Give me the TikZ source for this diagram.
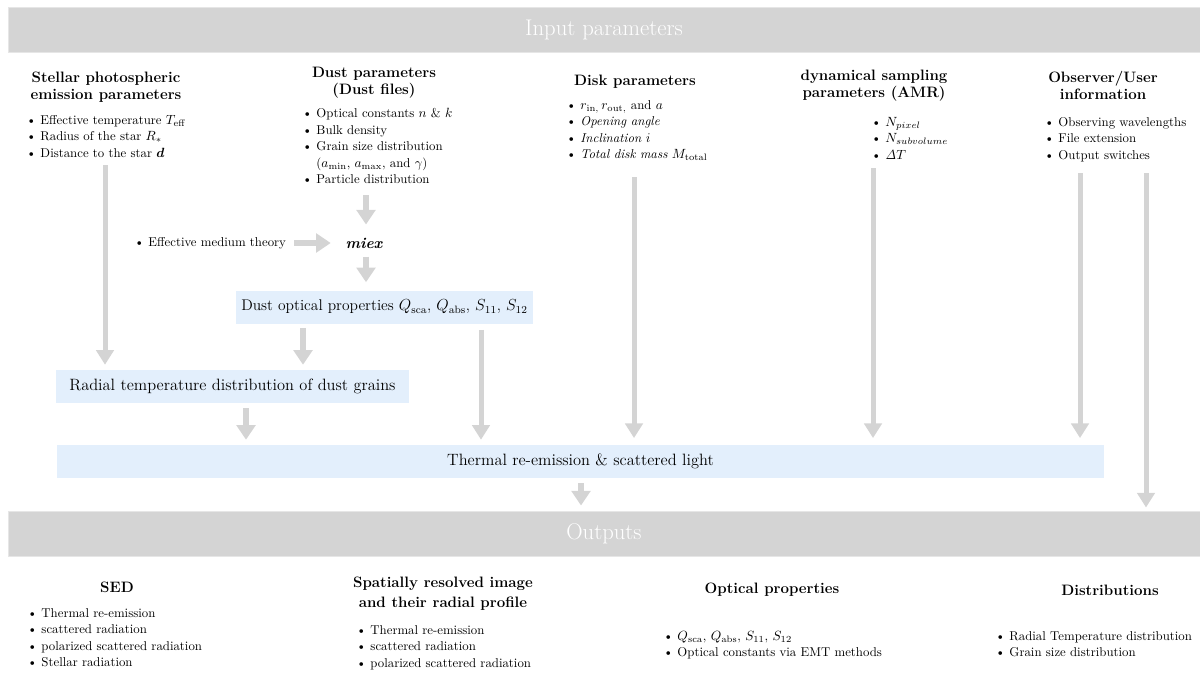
\documentclass[tikz,border=0pt]{standalone}
\usepackage{amsmath}
\usepackage{amssymb}
\usepackage{tikz}
\usetikzlibrary{arrows.meta}
\definecolor{bannergray}{RGB}{212, 212, 212}
\definecolor{bannerline}{RGB}{230, 230, 230}
\definecolor{arrowgray}{RGB}{212, 212, 212}
\definecolor{boxblue}{RGB}{227, 239, 252}

\begin{document}
\begin{tikzpicture}[x=0.75pt,y=-0.75pt,
	banner/.style={fill=bannergray, draw=bannerline, line width=0.75pt, minimum width=894pt, minimum height=33.75pt, text=white, font=\fontsize{17}{20}\selectfont},
	head/.style={align=center, inner sep=0pt, font=\fontsize{11.3}{12.8}\selectfont\bfseries},
	items/.style={anchor=north west, align=left, inner sep=0pt, font=\fontsize{9.6}{12.4}\selectfont},
	stage/.style={fill=boxblue, minimum height=24.75pt, font=\fontsize{12.3}{14}\selectfont},
	flow/.style={arrowgray, line width=3.75pt, -{Triangle[length=11pt,width=13pt]}},
	bigflow/.style={arrowgray, line width=5pt, -{Triangle[length=11pt,width=14pt]}}]
	\useasboundingbox (0,0) rectangle (1200,672);
	
	% Banners
	\node[banner] (input) at (604,29.5) {Input parameters};
	\node[banner] (output) at (604,533.5) {Outputs};
	
	% Stellar
	\node[head] (stellar) at (106,87) {Stellar photospheric\\emission parameters};
	\node[items] (stellarlist) at (26,115) {\textbullet\ Effective temperature $T_{\mathrm{eff}}$\\
		\textbullet\ Radius of the star $R_*$\\
		\textbullet\ Distance to the star $\boldsymbol{d}$};
	% Dust
	\node[head] (dust) at (374,83) {Dust parameters\\(Dust files)};
	\node[items] (dustlist) at (302,108) {\textbullet\ Optical constants $n$ \& $k$\\
		\textbullet\ Bulk density\\
		\textbullet\ Grain size distribution\\
		\phantom{\textbullet\ }($a_{\mathrm{min}}$, $a_{\mathrm{max}}$, and $\gamma$)\\
		\textbullet\ Particle distribution};
	% Disk
	\node[head] (disk) at (635,82) {Disk parameters};
	\node[items] (disklist) at (566,100) {\textbullet\ $r_{\mathrm{in},}\,r_{\mathrm{out},}$ and $a$\\
		\textbullet\ \textit{Opening angle}\\
		\textbullet\ \textit{Inclination $i$}\\
		\textbullet\ \textit{Total disk mass} $M_{\mathrm{total}}$};
	% AMR
	\node[head] (amr) at (874,86) {dynamical sampling\\parameters (AMR)};
	\node[items] (amrlist) at (871,117) {\textbullet\ $N_{pixel}$\\
		\textbullet\ $N_{subvolume}$\\
		\textbullet\ $\mathit{\Delta}T$};
	% Observer
	\node[head] (observer) at (1103,85) {Observer/User\\information};
	\node[items] (observerlist) at (1044,117) {\textbullet\ Observing wavelengths\\
		\textbullet\ File extension\\
		\textbullet\ Output switches};
	
	% Dust processing
	\node[items, anchor=west] (emt) at (134,243) {\textbullet\ Effective medium theory};
	\node[inner sep=0pt, font=\fontsize{11.5}{14}\selectfont\bfseries\itshape] (miex) at (364,243) {miex};
	\node[stage, minimum width=222.75pt, font=\fontsize{11.6}{14}\selectfont] (dustopt) at (384.5,307) {Dust optical properties $Q_{\mathrm{sca}}$, $Q_{\mathrm{abs}}$, $S_{11}$, $S_{12}$};
	\node[stage, minimum width=264.75pt] (radial) at (232.5,386.5) {Radial temperature distribution of dust grains};
	\node[stage, minimum width=785.25pt] (thermal) at (580.5,461.5) {Thermal re-emission \& scattered light};
	
	% Arrow ends
	\coordinate (stellarout) at (105,165);
	\coordinate (dustout) at (366,195);
	\coordinate (diskout) at (634,177);
	\coordinate (amrout) at (873,168);
	\coordinate (observerout) at (1080,173);
	\coordinate (switchout) at (1146,173);
	\coordinate (tempx) at (303,0);
	\coordinate (opticsx) at (481,0);
	\coordinate (radialx) at (246,0);
	\coordinate (centerx) at (581,0);
	
	% Arrows
	\draw[flow, shorten >=3.75pt] (stellarout) -- (stellarout |- radial.north);
	\draw[bigflow, shorten >=9.75pt] (dustout) -- (dustout |- miex.north);
	\draw[bigflow, shorten <=6pt, shorten >=11pt] (emt.east) -- (emt.east -| miex.west);
	\draw[bigflow, shorten <=6pt, shorten >=6pt] (miex.south -| dustout) -- (dustopt.north -| dustout);
	\draw[bigflow, shorten <=3pt, shorten >=3.75pt] (dustopt.south -| tempx) -- (radial.north -| tempx);
	\draw[flow, shorten <=4.5pt, shorten >=3.75pt] (dustopt.south -| opticsx) -- (thermal.north -| opticsx);
	\draw[bigflow, shorten <=3.75pt, shorten >=3.75pt] (radial.south -| radialx) -- (thermal.north -| radialx);
	\draw[flow, shorten >=5pt] (diskout) -- (diskout |- thermal.north);
	\draw[flow, shorten >=5pt] (amrout) -- (amrout |- thermal.north);
	\draw[flow, shorten >=5pt] (observerout) -- (observerout |- thermal.north);
	\draw[flow, shorten >=2.25pt] (switchout) -- (switchout |- output.north);
	\draw[bigflow, shorten <=3.75pt, shorten >=3.75pt] (thermal.south -| centerx) -- (output.north -| centerx);
	
	% Outputs
	\node[head] (sed) at (117,587) {SED};
	\node[items] (sedlist) at (27,608) {\textbullet\ Thermal re-emission\\
		\textbullet\ scattered radiation\\
		\textbullet\ polarized scattered radiation\\
		\textbullet\ Stellar radiation};
	\node[head, font=\fontsize{11.3}{15}\selectfont\bfseries] (image) at (443,594) {Spatially resolved image\\and their radial profile};
	\node[items] (imagelist) at (356,625) {\textbullet\ Thermal re-emission\\
		\textbullet\ scattered radiation\\
		\textbullet\ polarized scattered radiation};
	\node[head] (optics) at (772,590) {Optical properties};
	\node[items] (opticslist) at (663,631) {\textbullet\ $Q_{\mathrm{sca}}$, $Q_{\mathrm{abs}}$, $S_{11}$, $S_{12}$\\
		\textbullet\ Optical constants via EMT methods};
	\node[head] (distrib) at (1110,590) {Distributions};
	\node[items] (distriblist) at (995,631) {\textbullet\ Radial Temperature distribution\\
		\textbullet\ Grain size distribution};
\end{tikzpicture}
\end{document}
